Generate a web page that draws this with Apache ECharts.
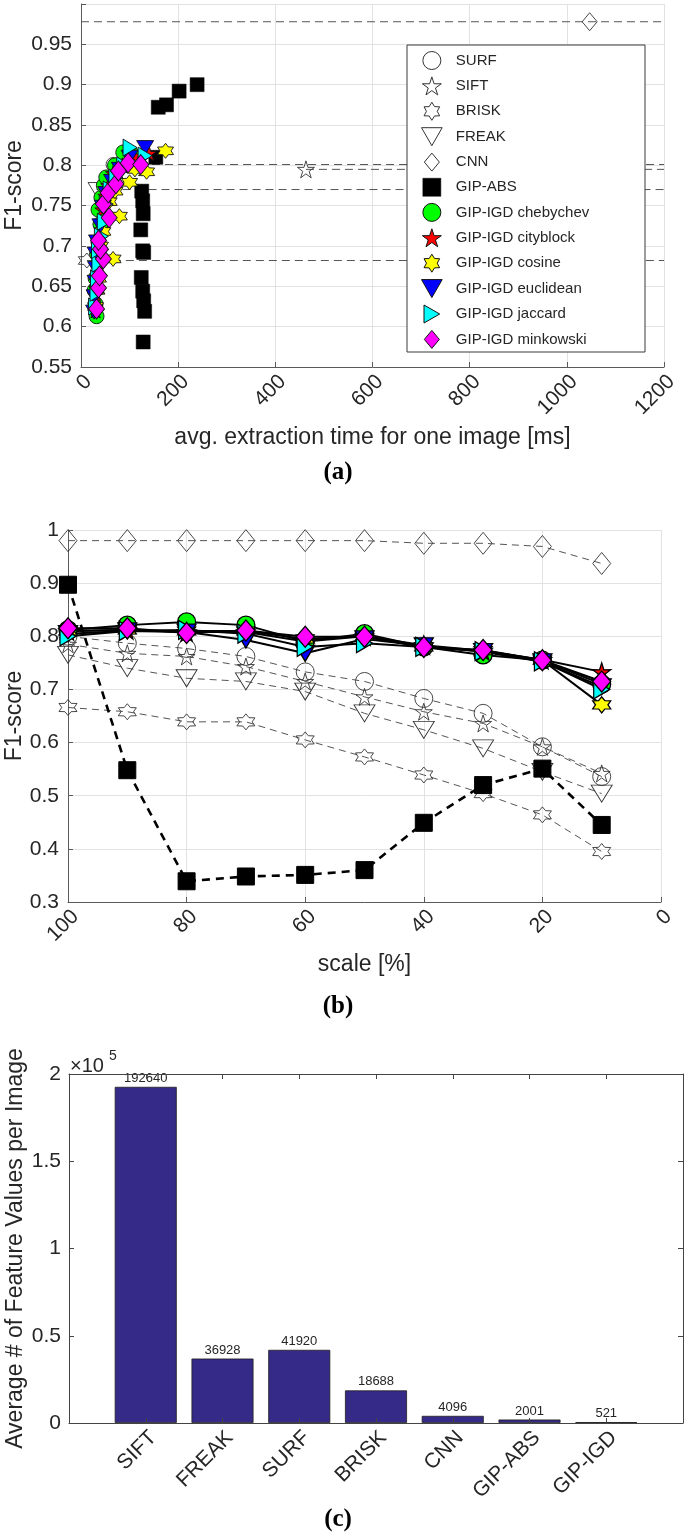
<!DOCTYPE html>
<html><head><meta charset="utf-8">
<script src="https://cdn.jsdelivr.net/npm/echarts@6/dist/echarts.min.js"></script>
<style>html,body{margin:0;padding:0;background:#fff}#c{width:685px;height:1540px}</style>
</head><body><div id="c"></div>
<script>
// ===================== DATA =====================
// (a) F1-score vs. avg. extraction time [ms]
const surfA  = [[66, 0.801]];
const siftA  = [[463, 0.795]];
const briskA = [[12, 0.682]];
const freakA = [[32, 0.770]];
const cnnA   = [[1047, 0.978]];
// horizontal dashed reference lines (start time, F1) -> run to 1200
const refLineStartA = [66, 463, 12, 32, 0];
const refLineF1A    = [0.801, 0.795, 0.682, 0.770, 0.978];
const refLineEndA   = 1200;
const gipAbsA = [[239,0.900],[202,0.892],[176,0.875],[159,0.872],[154,0.810],[125,0.768],[127,0.756],[128,0.740],[123,0.720],[127,0.694],[129,0.692],[124,0.661],[127,0.644],[129,0.632],[131,0.619],[128,0.581]];
const chebA = [[32,0.613],[30,0.628],[28,0.645],[30,0.660],[33,0.690],[36,0.705],[40,0.727],[36,0.745],[42,0.760],[47,0.775],[52,0.785],[70,0.800],[87,0.816],[103,0.815]];
const cityA = [[30,0.620],[31,0.640],[33,0.660],[36,0.680],[38,0.700],[42,0.720],[44,0.745],[50,0.762],[56,0.775],[66,0.790],[85,0.800],[110,0.812],[140,0.815]];
const cosA  = [[30,0.625],[33,0.645],[36,0.660],[66,0.684],[40,0.700],[45,0.718],[79,0.737],[58,0.755],[70,0.768],[100,0.779],[111,0.795],[135,0.792],[174,0.818]];
const euclA = [[27,0.618],[28,0.637],[30,0.655],[31,0.672],[30,0.690],[33,0.705],[40,0.725],[45,0.748],[52,0.765],[64,0.780],[80,0.795],[100,0.810],[132,0.822]];
const jaccA = [[30,0.625],[33,0.642],[34,0.660],[37,0.678],[36,0.695],[42,0.712],[48,0.730],[52,0.752],[60,0.770],[72,0.785],[88,0.800],[101,0.822],[132,0.812]];
const minkA = [[32,0.622],[36,0.648],[38,0.663],[46,0.684],[40,0.696],[36,0.707],[58,0.735],[46,0.752],[56,0.766],[72,0.777],[77,0.793],[97,0.803],[123,0.801]];

// (b) F1-score vs. scale [%]
const scales = [100, 90, 80, 70, 60, 50, 40, 30, 20, 10];
const surfB  = [0.800,0.787,0.777,0.762,0.733,0.715,0.683,0.655,0.592,0.536];
const siftB  = [0.785,0.768,0.762,0.743,0.715,0.686,0.658,0.636,0.592,0.542];
const briskB = [0.666,0.658,0.639,0.639,0.605,0.573,0.539,0.504,0.464,0.395];
const freakB = [0.765,0.740,0.721,0.715,0.696,0.655,0.624,0.589,0.545,0.504];
const cnnB   = [0.980,0.980,0.980,0.980,0.980,0.980,0.975,0.975,0.969,0.937];
const gipAbsB= [0.897,0.548,0.339,0.348,0.351,0.360,0.449,0.520,0.551,0.445];
const chebB  = [0.812,0.821,0.827,0.821,0.790,0.805,0.780,0.765,0.755,0.710];
const cityB  = [0.810,0.812,0.808,0.808,0.790,0.800,0.783,0.773,0.756,0.733];
const cosB   = [0.810,0.812,0.810,0.810,0.795,0.800,0.780,0.773,0.755,0.671];
const euclB  = [0.805,0.810,0.808,0.793,0.768,0.795,0.782,0.771,0.752,0.705];
const jaccB  = [0.800,0.810,0.812,0.805,0.780,0.787,0.780,0.772,0.753,0.700];
const minkB  = [0.815,0.815,0.806,0.811,0.799,0.799,0.780,0.774,0.755,0.715];

// (c) average # of feature values per image
const featCats = ['SIFT','FREAK','SURF','BRISK','CNN','GIP-ABS','GIP-IGD'];
const featVals = [192640, 36928, 41920, 18688, 4096, 2001, 521];

// ===================== STYLE =====================
const FONT = 'Liberation Sans';
const TXT = '#262626';
const AX = '#5a5a5a';
const GRID = '#e2e2e2';
const STAR5 = 'path://M50,0 L61.17,34.63 L97.55,34.55 L68.07,55.87 L79.39,90.45 L50,69 L20.61,90.45 L31.93,55.87 L2.45,34.55 L38.83,34.63 Z';
const HEX = 'path://M50,0 L65,24 L93.3,25 L80,50 L93.3,75 L65,76 L50,100 L35,76 L6.7,75 L20,50 L6.7,25 L35,24 Z';
const TRI_DOWN = 'path://M0,0 L100,0 L50,87 Z';
const TRI_RIGHT = 'path://M0,0 L87,50 L0,100 Z';
const DIAM = 'path://M50,0 L100,60 L50,120 L0,60 Z';
const SQR = 'path://M0,0 L100,0 L100,100 L0,100 Z';
const OPEN = 'rgba(255,255,255,0)';

const baseDefs = [
  {name:'SURF',  sym:'circle', leg:'circle', a:surfA,  b:surfB,  sa:14, sb:18},
  {name:'SIFT',  sym:STAR5,    leg:STAR5,    a:siftA,  b:siftB,  sa:17, sb:17},
  {name:'BRISK', sym:HEX,      leg:HEX,      a:briskA, b:briskB, sa:[17,15], sb:[18,16]},
  {name:'FREAK', sym:TRI_DOWN, leg:TRI_DOWN, a:freakA, b:freakB, sa:[17,14], sb:[21,17]},
  {name:'CNN',   sym:'diamond',leg:DIAM,     a:cnnA,   b:cnnB,   sa:[15,18], sb:[18,22]}
];
const igdDefs = [
  {name:'GIP-IGD chebychev', sym:'circle',  leg:'circle',  col:'#00ff00', a:chebA, b:chebB, sa:15, sb:18},
  {name:'GIP-IGD cityblock', sym:STAR5,     leg:STAR5,     col:'#ff0000', a:cityA, b:cityB, sa:15, sb:18},
  {name:'GIP-IGD cosine',    sym:HEX,       leg:HEX,       col:'#ffff00', a:cosA,  b:cosB,  sa:[16,15], sb:[18,16]},
  {name:'GIP-IGD euclidean', sym:TRI_DOWN,  leg:TRI_DOWN,  col:'#0000ff', a:euclA, b:euclB, sa:[17,14], sb:[19,16]},
  {name:'GIP-IGD jaccard',   sym:TRI_RIGHT, leg:TRI_RIGHT, col:'#00ffff', a:jaccA, b:jaccB, sa:[14,17], sb:[16,19]},
  {name:'GIP-IGD minkowski', sym:'diamond', leg:DIAM,      col:'#ff00ff', a:minkA, b:minkB, sa:[16,20], sb:[18,21]}
];

const series = [];
// (a) reference dashed lines
refLineF1A.forEach((f, i) => {
  series.push({type:'line', name:'ref'+i, xAxisIndex:0, yAxisIndex:0, symbol:'none', silent:true,
    data:[[refLineStartA[i], f], [refLineEndA, f]],
    lineStyle:{color:'#555', width:1, type:[8,5]}, z:1});
});
// (a) baselines
baseDefs.forEach(d => series.push({type:'scatter', name:d.name, xAxisIndex:0, yAxisIndex:0,
  symbol:d.sym, symbolSize:d.sa, data:d.a,
  itemStyle:{color:OPEN, borderColor:'#333', borderWidth:0.9, opacity:1}}));
series.push({type:'scatter', name:'GIP-ABS', xAxisIndex:0, yAxisIndex:0, symbol:'rect', symbolSize:14,
  data:gipAbsA, itemStyle:{color:'#000', borderColor:'#000', borderWidth:0.5, opacity:1}});
igdDefs.forEach(d => series.push({type:'scatter', name:d.name, xAxisIndex:0, yAxisIndex:0,
  symbol:d.sym, symbolSize:d.sa, data:d.a,
  itemStyle:{color:d.col, borderColor:'#111', borderWidth:0.9, opacity:1}}));

// (b)
const pair = arr => scales.map((s, i) => [s, arr[i]]);
baseDefs.forEach(d => series.push({type:'line', name:'b-'+d.name, xAxisIndex:1, yAxisIndex:1,
  symbol:d.sym, symbolSize:d.sb, showAllSymbol:true, data:pair(d.b),
  lineStyle:{color:'#555', width:1, type:[7,5]},
  itemStyle:{color:OPEN, borderColor:'#333', borderWidth:0.9}}));
series.push({type:'line', name:'b-GIP-ABS', xAxisIndex:1, yAxisIndex:1, symbol:'rect', symbolSize:17,
  showAllSymbol:true, data:pair(gipAbsB),
  lineStyle:{color:'#000', width:2.6, type:[8,6]}, itemStyle:{color:'#000', borderColor:'#000'}});
igdDefs.forEach(d => series.push({type:'line', name:'b-'+d.name, xAxisIndex:1, yAxisIndex:1,
  symbol:d.sym, symbolSize:d.sb, showAllSymbol:true, data:pair(d.b),
  lineStyle:{color:'#000', width:2}, itemStyle:{color:d.col, borderColor:'#000', borderWidth:1.3}}));

// (c)
series.push({type:'bar', name:'feat', xAxisIndex:2, yAxisIndex:2, barWidth:62,
  data:featVals.map((v, i) => [i + 1, v]),
  itemStyle:{color:'#352a87', borderColor:'#1e1e1e', borderWidth:0.8},
  label:{show:true, position:'top', distance:2, fontSize:13, fontFamily:FONT, color:TXT,
    formatter:p => String(p.value[1])}});

const legendData = [
  ...baseDefs.map(d => ({name:d.name, icon:d.leg, itemStyle:{color:'#fff', borderColor:'#333', borderWidth:1, opacity:1}})),
  {name:'GIP-ABS', icon:SQR, itemStyle:{color:'#000', borderColor:'#000', borderWidth:0.5, opacity:1}},
  ...igdDefs.map(d => ({name:d.name, icon:d.leg, itemStyle:{color:d.col, borderColor:'#111', borderWidth:1, opacity:1}}))
];

const tickLbl = {color:TXT, fontSize:21, fontFamily:FONT};
const nameTxt = {color:TXT, fontSize:23, fontFamily:FONT};

const option = {
  animation:false,
  backgroundColor:'#fff',
  grid:[
    {left:81, top:4, width:583, height:363, containLabel:false, outerBoundsMode:'none'},
    {left:68, top:530, width:593, height:372, containLabel:false, outerBoundsMode:'none'},
    {left:69, top:1074, width:614, height:349, containLabel:false, outerBoundsMode:'none'}
  ],
  xAxis:[
    {gridIndex:0, type:'value', min:0, max:1200, interval:200, nameMoveOverlap:false,
      axisLine:{show:true, onZero:false, lineStyle:{color:AX}},
      axisTick:{show:true, inside:true, length:5, lineStyle:{color:AX}},
      axisLabel:Object.assign({rotate:45, margin:4, verticalAlign:'top', formatter:v => String(v)}, tickLbl),
      splitLine:{show:true, lineStyle:{color:GRID}},
      name:'avg. extraction time for one image [ms]', nameLocation:'middle', nameGap:59, nameTextStyle:nameTxt},
    {gridIndex:1, type:'value', min:0, max:100, interval:20, inverse:true, nameMoveOverlap:false,
      axisLine:{show:true, onZero:false, lineStyle:{color:AX}},
      axisTick:{show:true, inside:true, length:5, lineStyle:{color:AX}},
      axisLabel:Object.assign({rotate:45, margin:4, verticalAlign:'top', formatter:v => String(v)}, tickLbl),
      splitLine:{show:true, lineStyle:{color:GRID}},
      name:'scale [%]', nameLocation:'middle', nameGap:51, nameTextStyle:nameTxt},
    {gridIndex:2, type:'value', min:0, max:8, interval:1, z:3,
      axisLine:{show:true, onZero:false, lineStyle:{color:'#444'}},
      axisTick:{show:true, inside:true, length:5, lineStyle:{color:'#444'}},
      axisLabel:Object.assign({rotate:45, margin:4, verticalAlign:'top',
        formatter:v => featCats[v - 1] || ''}, tickLbl),
      splitLine:{show:false}},
    {gridIndex:2, type:'value', position:'top', min:0, max:8, interval:1, z:3,
      axisLine:{show:true, onZero:false, lineStyle:{color:'#444'}},
      axisTick:{show:true, inside:true, length:5, lineStyle:{color:'#444'}},
      axisLabel:{show:false}, splitLine:{show:false}}
  ],
  yAxis:[
    {gridIndex:0, type:'value', min:0.55, max:1.0, interval:0.05, nameMoveOverlap:false,
      axisLine:{show:true, onZero:false, lineStyle:{color:AX}},
      axisTick:{show:true, inside:true, length:5, lineStyle:{color:AX}},
      axisLabel:Object.assign({margin:9, formatter:v => v > 0.999 ? '' : String(+v.toFixed(2))}, tickLbl),
      splitLine:{show:true, lineStyle:{color:GRID}},
      name:'F1-score', nameLocation:'middle', nameGap:55, nameTextStyle:nameTxt},
    {gridIndex:1, type:'value', min:0.3, max:1.0, interval:0.1, nameMoveOverlap:false,
      axisLine:{show:true, onZero:false, lineStyle:{color:AX}},
      axisTick:{show:true, inside:true, length:5, lineStyle:{color:AX}},
      axisLabel:Object.assign({margin:9, formatter:v => String(+v.toFixed(1))}, tickLbl),
      splitLine:{show:true, lineStyle:{color:GRID}},
      name:'F1-score', nameLocation:'middle', nameGap:42, nameTextStyle:nameTxt},
    {gridIndex:2, type:'value', min:0, max:200000, interval:50000, z:3, nameMoveOverlap:false,
      axisLine:{show:true, onZero:false, lineStyle:{color:'#444'}},
      axisTick:{show:true, inside:true, length:5, lineStyle:{color:'#444'}},
      axisLabel:Object.assign({margin:8, formatter:v => String(+(v / 1e5).toFixed(1))}, tickLbl),
      splitLine:{show:false},
      name:'Average # of Feature Values per Image', nameLocation:'middle', nameGap:42, nameTextStyle:nameTxt},
    {gridIndex:2, type:'value', position:'right', min:0, max:200000, interval:50000, z:3,
      axisLine:{show:true, onZero:false, lineStyle:{color:'#444'}},
      axisTick:{show:true, inside:true, length:5, lineStyle:{color:'#444'}},
      axisLabel:{show:false}, splitLine:{show:false}}
  ],
  legend:{
    left:421, top:51, orient:'vertical', padding:0, itemWidth:38, itemHeight:18, itemGap:6.4,
    selectedMode:false, z:10, data:legendData, symbolKeepAspect:true,
    textStyle:{color:TXT, fontSize:15, fontFamily:FONT}
  },
  graphic:[
    {type:'rect', z:5, shape:{x:407, y:45, width:238, height:307}, style:{fill:'#fff', stroke:'#3a3a3a', lineWidth:1}},
    {type:'text', x:338, y:473, style:{text:'(a)', fontSize:25, fontWeight:'bold', fontFamily:'Liberation Serif', fill:'#000', align:'center', verticalAlign:'middle'}},
    {type:'text', x:338, y:1007, style:{text:'(b)', fontSize:25, fontWeight:'bold', fontFamily:'Liberation Serif', fill:'#000', align:'center', verticalAlign:'middle'}},
    {type:'text', x:338, y:1520, style:{text:'(c)', fontSize:25, fontWeight:'bold', fontFamily:'Liberation Serif', fill:'#000', align:'center', verticalAlign:'middle'}},
    {type:'text', x:70, y:1066, style:{text:'\u00d710', fontSize:20, fontFamily:FONT, fill:TXT, align:'left', verticalAlign:'middle'}},
    {type:'text', x:109, y:1056, style:{text:'5', fontSize:14, fontFamily:FONT, fill:TXT, align:'left', verticalAlign:'middle'}}
  ],
  series:series
};
const chart = echarts.init(document.getElementById('c'), null, {renderer:'canvas'});
chart.setOption(option);
</script></body></html>
